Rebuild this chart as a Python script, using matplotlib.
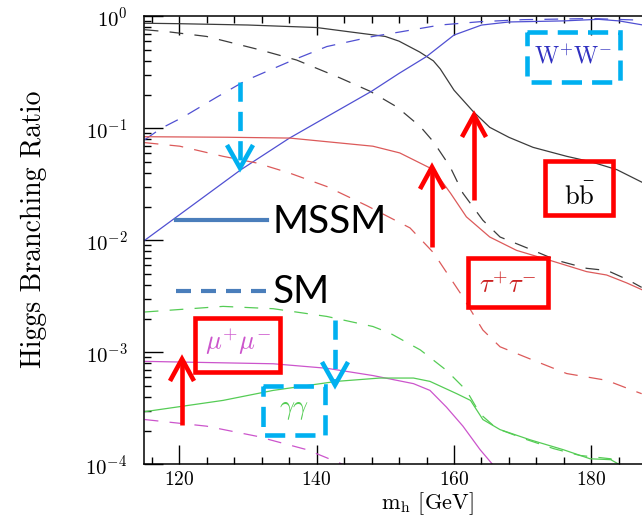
import matplotlib
matplotlib.use("Agg")
import matplotlib.pyplot as plt
from matplotlib.patches import Rectangle
from matplotlib.ticker import MultipleLocator, LogLocator, LogFormatterMathtext, NullFormatter

plt.rcParams['mathtext.fontset'] = 'cm'
plt.rcParams['font.family'] = 'serif'
plt.rcParams['font.serif'] = ['cmr10', 'DejaVu Serif']
plt.rcParams['axes.formatter.use_mathtext'] = True

# Higgs mass (GeV) and branching ratios
m_bb_mssm = [115, 120, 130, 140, 145, 150, 152, 155, 157, 158, 160, 162.8, 165.2, 168, 171.5, 176.4, 180, 183.7, 187.3]
br_bb_mssm = [0.867, 0.859, 0.836, 0.794, 0.724, 0.661, 0.60, 0.48, 0.40, 0.339, 0.219, 0.141, 0.102, 0.083,
              0.0676, 0.0562, 0.0501, 0.0427, 0.0331]
m_bb_sm = [115, 118.7, 124, 131.8, 137.1, 143.4, 147.8, 151.7, 155.1, 157, 159.4, 161.3, 164.2, 166.7, 171.5,
           175, 179.3, 182.3, 185.2, 187.3]
br_bb_sm = [0.759, 0.724, 0.661, 0.501, 0.407, 0.282, 0.214, 0.155, 0.1035, 0.0759, 0.0457, 0.0263, 0.0151,
            0.0107, 0.00813, 0.00661, 0.00562, 0.00537, 0.00447, 0.0038]

m_ww_mssm = [115, 129, 136, 142, 148, 152, 156, 160, 164, 168, 176, 181, 184, 187.3]
br_ww_mssm = [0.01, 0.0427, 0.0813, 0.132, 0.214, 0.309, 0.437, 0.68, 0.835, 0.89, 0.91, 0.94, 0.91, 0.84]
m_ww_sm = [115, 117.4, 120.6, 125.5, 129.8, 136.6, 141.5, 148.2, 152.1, 158, 163.8, 170, 180, 187.3]
br_ww_sm = [0.079, 0.1, 0.126, 0.19, 0.269, 0.407, 0.537, 0.661, 0.724, 0.836, 0.895, 0.933, 0.955, 0.923]

m_tt_mssm = [115, 127, 136.1, 148.2, 152.1, 157, 159.5, 161.8, 165.2, 169.1, 174, 179.3, 182.2, 185.1, 187.3]
br_tt_mssm = [0.0841, 0.0832, 0.0818, 0.0692, 0.0603, 0.0427, 0.0263, 0.0162, 0.0107, 0.00813, 0.00661,
              0.00525, 0.0049, 0.00417, 0.00363]
m_tt_sm = [115, 120.1, 126.4, 131.3, 136.1, 141.5, 147.3, 153.6, 157, 160.9, 164.2, 166.7, 171.5, 176.4,
           182.2, 186, 187.3]
br_tt_sm = [0.0745, 0.0692, 0.0562, 0.049, 0.0398, 0.0302, 0.0204, 0.0129, 0.00776, 0.00339, 0.00158,
            0.00112, 0.000851, 0.000646, 0.000562, 0.000457, 0.000427]

m_mumu_mssm = [115, 133.7, 141.5, 148.2, 154.1, 156.5, 158.9, 161.3, 163.8, 165.6]
br_mumu_mssm = [8.3e-4, 7.9e-4, 7.2e-4, 6.2e-4, 5.25e-4, 4.57e-4, 3.24e-4, 2.19e-4, 1.35e-4, 1.0e-4]
m_mumu_sm = [115, 124, 131.3, 138.6, 143.8]
br_mumu_sm = [2.51e-4, 2.19e-4, 1.78e-4, 1.35e-4, 1.0e-4]

m_aa_mssm = [115, 126.4, 133.7, 142.9, 149.2, 154.1, 156.5, 160.4, 162.4, 164.2, 166.7, 171, 175.9, 179.8,
             182.8, 184]
br_aa_mssm = [2.95e-4, 3.72e-4, 4.57e-4, 5.5e-4, 5.89e-4, 5.89e-4, 5.5e-4, 4.27e-4, 3.72e-4, 2.51e-4,
              2.04e-4, 1.66e-4, 1.35e-4, 1.12e-4, 1.10e-4, 1.0e-4]
m_aa_sm = [115, 126.4, 133.7, 141.5, 148.2, 150.7, 155.1, 158.9, 161.8, 163.8, 166.2, 170.6, 174.5, 178.3,
           182.8, 184]
br_aa_sm = [2.29e-3, 2.57e-3, 2.45e-3, 2.09e-3, 1.70e-3, 1.48e-3, 1.05e-3, 6.9e-4, 4.57e-4, 2.82e-4,
            2.09e-4, 1.66e-4, 1.38e-4, 1.20e-4, 1.12e-4, 1.0e-4]

COL_BB = '#3c3c3c'
COL_WW = '#5050d2'
COL_TT = '#dc5a5a'
COL_MU = '#cc55cc'
COL_AA = '#55cc55'
CYAN = '#00b0f0'
RED = '#ff0000'
LEG_BLUE = '#4a7ebb'

fig = plt.figure(figsize=(6.42, 5.18), dpi=100)
ax = fig.add_axes([144 / 642, 53.7 / 518, 1 - 144 / 642, 448 / 518])

curves = [
    (m_bb_mssm, br_bb_mssm, COL_BB, '-'), (m_bb_sm, br_bb_sm, COL_BB, '--'),
    (m_ww_mssm, br_ww_mssm, COL_WW, '-'), (m_ww_sm, br_ww_sm, COL_WW, '--'),
    (m_tt_mssm, br_tt_mssm, COL_TT, '-'), (m_tt_sm, br_tt_sm, COL_TT, '--'),
    (m_mumu_mssm, br_mumu_mssm, COL_MU, '-'), (m_mumu_sm, br_mumu_sm, COL_MU, '--'),
    (m_aa_mssm, br_aa_mssm, COL_AA, '-'), (m_aa_sm, br_aa_sm, COL_AA, '--'),
]
for xs, ys, col, ls in curves:
    line, = ax.plot(xs, ys, color=col, lw=0.9)
    if ls == '--':
        line.set_dashes((11, 9))

ax.set_yscale('log')
ax.set_xlim(114.9, 187.35)
ax.set_ylim(1e-4, 1)
ax.xaxis.set_major_locator(MultipleLocator(20))
ax.xaxis.set_minor_locator(MultipleLocator(4))
ax.yaxis.set_major_locator(LogLocator(base=10, numticks=10))
ax.yaxis.set_major_formatter(LogFormatterMathtext())
ax.yaxis.set_minor_locator(LogLocator(base=10, subs=range(2, 10), numticks=10))
ax.yaxis.set_minor_formatter(NullFormatter())
ax.tick_params(which='both', direction='in', top=True, right=False, width=1.0)
ax.tick_params(which='major', length=14)
ax.tick_params(which='minor', length=5)
ax.tick_params(axis='x', labelsize=14, pad=5)
ax.tick_params(axis='y', labelsize=15, pad=12)
ax.spines['right'].set_visible(False)
for s in ['left', 'bottom', 'top']:
    ax.spines[s].set_linewidth(1.1)
# the original axis runs past the crop on the right, so labels sit off-centre
ax.set_xlabel(r'$\mathrm{m}_\mathrm{h}$ [GeV]', fontsize=16)
ax.xaxis.set_label_coords(0.568, -0.057)
ax.set_ylabel('Higgs Branching Ratio', fontsize=20)
ax.yaxis.set_label_coords(-0.195, 0.525)

# overlay in pixel coordinates for the slide annotations
ov = fig.add_axes([0, 0, 1, 1])
ov.set_xlim(0, 642)
ov.set_ylim(518, 0)
ov.axis('off')
ov.patch.set_alpha(0)

ov.plot([176, 267], [220, 220], color=LEG_BLUE, lw=3)
leg_sm, = ov.plot([176, 267], [291, 291], color=LEG_BLUE, lw=3)
leg_sm.set_dashes((3.6, 2.4))
ov.text(273, 233, 'MSSM', family='Lato', fontsize=28, va='baseline', ha='left')
ov.text(273, 303, 'SM', family='Lato', fontsize=28, va='baseline', ha='left')

# solid red boxes
for x0, y0, w, h in [(545, 161, 68, 54), (468, 258, 80, 49), (195, 318, 85, 54)]:
    ov.add_patch(Rectangle((x0, y0), w, h, fill=False, edgecolor=RED, lw=3.3))
# dashed cyan boxes
for x0, y0, w, h in [(527, 32, 93, 50), (263, 386, 62, 49)]:
    ov.add_patch(Rectangle((x0, y0), w, h, fill=False, edgecolor=CYAN, lw=3.3,
                           linestyle=(0, (4.4, 2.2))))

ov.text(579, 196, r'$\mathrm{b}\bar{\mathrm{b}}$', fontsize=19, ha='center', va='center', color='black')
ov.text(508, 285, r'$\tau^{+}\tau^{-}$', fontsize=19, ha='center', va='center', color='#cc2020')
ov.text(238, 342, r'$\mu^{+}\mu^{-}$', fontsize=19, ha='center', va='center', color=COL_MU)
ov.text(573, 56, r'$\mathrm{W}^{+}\mathrm{W}^{-}$', fontsize=17, ha='center', va='center', color='#3030c0')
ov.text(294, 410, r'$\gamma\gamma$', fontsize=19, ha='center', va='center', color=COL_AA)

# red arrows pointing up
for x, y_bot, y_tip in [(182, 425, 359), (432, 247, 167), (474, 200, 115)]:
    ov.plot([x, x], [y_bot, y_tip + 3], color=RED, lw=3.3, solid_capstyle='butt')
    ov.plot([x - 12, x, x + 12], [y_tip + 22, y_tip, y_tip + 22], color=RED, lw=3.3,
            solid_joinstyle='miter', solid_capstyle='butt')
# cyan dashed arrows pointing down
for x, y_top, y_tip in [(240, 82, 168), (335, 320, 385)]:
    shaft, = ov.plot([x, x], [y_top, y_tip - 3], color=CYAN, lw=3.3, solid_capstyle='butt')
    shaft.set_dashes((4.2, 2.2))
    ov.plot([x - 13, x, x + 13], [y_tip - 23, y_tip, y_tip - 23], color=CYAN, lw=3.3,
            solid_joinstyle='miter', solid_capstyle='butt')

fig.savefig('out.png', dpi=100)
